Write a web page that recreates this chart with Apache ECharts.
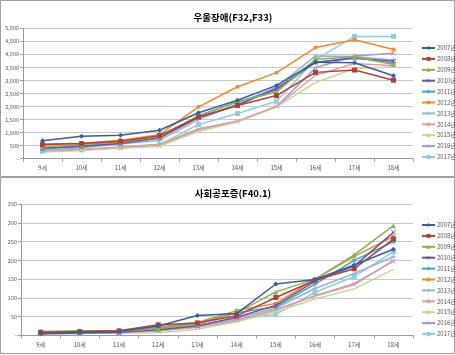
<!DOCTYPE html>
<html><head><meta charset="utf-8">
<script src="https://cdn.jsdelivr.net/npm/echarts@6/dist/echarts.min.js"></script>
<style>html,body{margin:0;padding:0;background:#fff}#c{width:455px;height:355px}</style>
</head><body><div id="c"></div>
<script>
const ages = ['9세','10세','11세','12세','13세','14세','15세','16세','17세','18세'];
const years = ['2007년','2008년','2009년','2010년','2011년','2012년','2013년','2014년','2015년','2016년','2017년'];
const titleTop = '우울장애(F32,F33)';
const titleBottom = '사회공포증(F40.1)';
// 우울장애 values per year
const dep2007 = [690, 860, 900, 1090, 1760, 2240, 2810, 3700, 3680, 3180];
const dep2008 = [540, 580, 670, 880, 1600, 2040, 2420, 3310, 3400, 3010];
const dep2009 = [450, 540, 640, 850, 1640, 2180, 2560, 3810, 3910, 3610];
const dep2010 = [400, 470, 580, 800, 1580, 2050, 2690, 3700, 3850, 3740];
const dep2011 = [380, 500, 600, 780, 1650, 2180, 2630, 3690, 3880, 3650];
const dep2012 = [550, 590, 710, 920, 1990, 2760, 3300, 4260, 4560, 4190];
const dep2013 = [320, 420, 560, 700, 1500, 2100, 2750, 3940, 3920, 3780];
const dep2014 = [300, 360, 450, 550, 1150, 1450, 2000, 3200, 3650, 3560];
const dep2015 = [260, 310, 400, 480, 1050, 1410, 1990, 2920, 3460, 3520];
const dep2016 = [280, 330, 420, 500, 1120, 1430, 2000, 3490, 3940, 4040];
const dep2017 = [300, 340, 430, 540, 1310, 1730, 2200, 3800, 4690, 4690];
// 사회공포증 values per year
const soc2007 = [5, 8, 10, 25, 53, 58, 137, 149, 188, 230];
const soc2008 = [8, 10, 12, 28, 33, 52, 101, 147, 178, 257];
const soc2009 = [9, 12, 11, 18, 30, 60, 116, 150, 215, 293];
const soc2010 = [5, 6, 8, 15, 25, 48, 80, 145, 185, 275];
const soc2011 = [6, 8, 9, 18, 32, 60, 76, 137, 200, 250];
const soc2012 = [11, 10, 12, 22, 34, 66, 85, 150, 211, 264];
const soc2013 = [4, 6, 8, 14, 26, 45, 73, 125, 165, 210];
const soc2014 = [4, 5, 7, 12, 22, 40, 69, 105, 135, 200];
const soc2015 = [3, 5, 6, 7, 16, 36, 63, 97, 124, 176];
const soc2016 = [4, 6, 7, 12, 22, 38, 68, 106, 138, 198];
const soc2017 = [5, 7, 8, 14, 28, 43, 56, 115, 157, 223];
const topTicks = [0, 5000, 500];
const bottomTicks = [0, 350, 50];

const depData = [dep2007, dep2008, dep2009, dep2010, dep2011, dep2012, dep2013, dep2014, dep2015, dep2016, dep2017];
const socData = [soc2007, soc2008, soc2009, soc2010, soc2011, soc2012, soc2013, soc2014, soc2015, soc2016, soc2017];
const colors = ['#3A5D9C','#B0403C','#8CB050','#7050A0','#40A8C0','#F08A30','#95B3D7','#E0A0A0','#C3D69B','#A898C8','#93CDDD'];
const xPath = 'path://M0,1L1,0L5,4L9,0L10,1L6,5L10,9L9,10L5,6L1,10L0,9L4,5Z';
const starPath = 'path://M4,0H6V3.6L9,1.8L10,3.5L7,5L10,6.5L9,8.2L6,6.4V10H4V6.4L1,8.2L0,6.5L3,5L0,3.5L1,1.8L4,3.6Z';
const plusPath = 'path://M4,0H6V4H10V6H6V10H4V6H0V4H4Z';
const symbols = ['diamond','rect','triangle',xPath,starPath,'circle',plusPath,'none','none',xPath,'rect'];
const FONT = '"Noto Sans CJK KR", "Noto Sans", sans-serif';

function fmt(v){ return v === 0 ? '-' : v.toLocaleString('en-US'); }

const series = [];
years.forEach((y, i) => {
  [depData, socData].forEach((arr, g) => {
    series.push({
      name: y, type: 'line', xAxisIndex: g, yAxisIndex: g,
      data: arr[i], color: colors[i],
      symbol: symbols[i], symbolSize: symbols[i]==='circle'?4:5,
      showSymbol: symbols[i] !== 'none',
      lineStyle: {width: 1.5}, itemStyle: {color: colors[i]},
      animation: false, z: 20 - i
    });
  });
});

function xAxis(g){
  return {type:'category', gridIndex:g, data:ages, boundaryGap:true,
    axisLine:{lineStyle:{color:'#9a9a9a'}}, axisTick:{show:true, length:3, lineStyle:{color:'#9a9a9a'}},
    axisLabel:{fontSize:6, color:'#555', margin:6, fontFamily:FONT}};
}
function yAxis(g, t){
  return {type:'value', gridIndex:g, min:t[0], max:t[1], interval:t[2],
    axisLine:{show:true, lineStyle:{color:'#9a9a9a'}}, axisTick:{show:true, length:3, lineStyle:{color:'#9a9a9a'}},
    splitLine:{lineStyle:{color:'#c8c8c8', width:1}},
    axisLabel:{fontSize:5.5, color:'#555', margin:4, formatter:fmt, fontFamily:FONT}};
}
function legend(top){
  return {orient:'vertical', left:421, top:top, itemWidth:13, itemHeight:5, itemGap:4.9,
    textStyle:{fontSize:6, color:'#555', fontFamily:FONT, padding:[0,0,0,-3]}, data:years, padding:0};
}

const chart = echarts.init(document.getElementById('c'), null, {renderer:'canvas'});
chart.setOption({
  backgroundColor:'#fff',
  animation:false,
  title:[
    {text:titleTop, left:228, top:8, textAlign:'center', textStyle:{fontSize:9.5, fontWeight:'bold', color:'#000', fontFamily:FONT}},
    {text:titleBottom, left:228, top:184, textAlign:'center', textStyle:{fontSize:9.5, fontWeight:'bold', color:'#000', fontFamily:FONT}}
  ],
  legend:[legend(45), legend(222)],
  grid:[
    {left:23, right:42, top:28.3, height:130.4},
    {left:21, right:42, top:204.3, height:131}
  ],
  xAxis:[xAxis(0), xAxis(1)],
  yAxis:[yAxis(0, topTicks), yAxis(1, bottomTicks)],
  series:series,
  graphic:[
    {type:'rect', shape:{x:0.5,y:0.5,width:454,height:176}, style:{fill:'none', stroke:'#a0a0a0', lineWidth:1}, z:-1},
    {type:'rect', shape:{x:0.5,y:177.5,width:454,height:176}, style:{fill:'none', stroke:'#a0a0a0', lineWidth:1}, z:-1}
  ]
});
</script></body></html>
